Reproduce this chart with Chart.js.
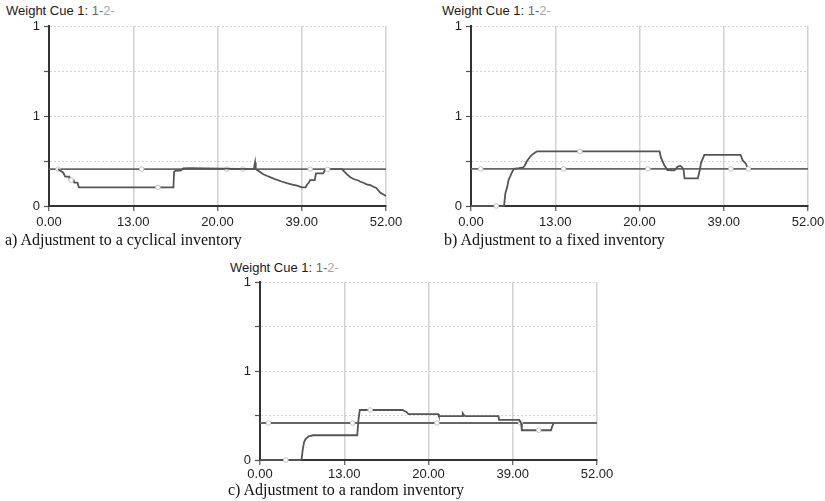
<!DOCTYPE html>
<html>
<head>
<meta charset="utf-8">
<script src="https://cdn.jsdelivr.net/npm/chart.js@4"></script>
<style>
  html, body { margin:0; padding:0; background:#fff; width:825px; height:501px; overflow:hidden; }
  .wrap { position:relative; width:825px; height:501px; }
  canvas { position:absolute; }
  .ttl { position:absolute; font-family:"Liberation Sans", Arial, sans-serif; font-size:13px; line-height:13px; color:#1a1a1a; white-space:nowrap; }
  .ttl .s1 { color:#6a6a6a; }
  .ttl .s2 { color:#a8a8a8; }
  .cap { position:absolute; font-family:"Liberation Serif", "Times New Roman", serif; font-size:16px; line-height:16px; color:#111; white-space:nowrap; }
</style>
</head>
<body>
<div class="wrap">
  <div class="ttl" style="left:6px;top:4px;">Weight Cue 1: <span class="s1">1-</span><span class="s2">2-</span></div>
  <div class="ttl" style="left:442px;top:4px;">Weight Cue 1: <span class="s1">1-</span><span class="s2">2-</span></div>
  <div class="ttl" style="left:230px;top:261px;">Weight Cue 1: <span class="s1">1-</span><span class="s2">2-</span></div>
  <canvas id="ca" width="410" height="232" style="left:0px;top:0px;"></canvas>
  <canvas id="cb" width="403" height="232" style="left:422px;top:0px;"></canvas>
  <canvas id="cc" width="410" height="230" style="left:211px;top:256px;"></canvas>
  <div class="cap" style="left:5px;top:232px;">a) Adjustment to a cyclical inventory</div>
  <div class="cap" style="left:444px;top:232px;">b) Adjustment to a fixed inventory</div>
  <div class="cap" style="left:228px;top:482px;">c) Adjustment to a random inventory</div>
</div>
<script>
// ---- tick labels ----
const xTickLabels = ["0.00", "13.00", "20.00", "39.00", "52.00"];
const yTickLabels = ["0", "", "1", "", "1"];

// ---- a) cyclical inventory ----
const cyclicalX1 = [1.4, 2.2, 2.5, 3.1, 3.2, 3.4, 3.8, 3.9, 4.4, 4.6, 16.8, 19.2, 19.3, 19.6, 20.3, 20.7, 21.7, 31.6, 31.8, 31.9, 32.5, 33.0, 33.6, 34.3, 35.1, 35.9, 36.7, 37.7, 38.3, 39.0, 39.6, 39.8, 40.1, 40.3, 41.0, 41.2, 42.3, 42.6, 43.0, 43.9, 45.2, 45.9, 46.5, 47.0, 47.6, 48.0, 48.6, 49.0, 49.6, 50.0, 50.5, 51.1, 52.0];
const cyclicalY1 = [0.205, 0.185, 0.163, 0.163, 0.144, 0.144, 0.144, 0.130, 0.130, 0.104, 0.104, 0.104, 0.190, 0.196, 0.196, 0.209, 0.210, 0.205, 0.243, 0.205, 0.190, 0.178, 0.168, 0.158, 0.146, 0.136, 0.127, 0.118, 0.113, 0.104, 0.104, 0.118, 0.130, 0.144, 0.144, 0.181, 0.181, 0.200, 0.203, 0.205, 0.205, 0.178, 0.160, 0.150, 0.143, 0.136, 0.128, 0.120, 0.116, 0.108, 0.100, 0.075, 0.055];
const cyclicalX2 = [0, 1.4, 14.3, 27.4, 29.9, 40.3, 52];
const cyclicalY2 = [0.205, 0.205, 0.205, 0.205, 0.205, 0.205, 0.205];
const cyclicalMarks1 = [3.4, 16.8, 43.0];
const cyclicalMarks2 = [1.4, 14.3, 27.4, 29.9, 40.3];

// ---- b) fixed inventory ----
const fixedX1 = [0, 3.9, 5.1, 5.3, 5.6, 5.8, 6.0, 6.3, 6.6, 7.4, 8.1, 8.3, 8.6, 9.0, 9.4, 9.9, 10.2, 16.8, 29.1, 29.3, 29.6, 29.8, 30.3, 31.4, 31.9, 32.3, 32.6, 32.8, 32.95, 35.0, 35.3, 35.5, 36.0, 41.6, 41.9, 42.1, 42.4, 42.8];
const fixedY1 = [0, 0, 0, 0.070, 0.108, 0.145, 0.160, 0.186, 0.206, 0.210, 0.215, 0.225, 0.247, 0.268, 0.284, 0.297, 0.303, 0.303, 0.303, 0.270, 0.245, 0.229, 0.200, 0.198, 0.219, 0.223, 0.215, 0.200, 0.154, 0.154, 0.200, 0.240, 0.284, 0.284, 0.255, 0.247, 0.235, 0.206];
const fixedX2 = [0, 1.5, 14.3, 27.3, 40.1, 52];
const fixedY2 = [0.206, 0.206, 0.206, 0.206, 0.206, 0.206];
const fixedMarks1 = [3.9, 16.8, 42.8];
const fixedMarks2 = [1.5, 14.3, 27.3, 40.1];

// ---- c) random inventory ----
const randomX1 = [0, 4.0, 6.4, 6.6, 6.8, 7.0, 7.5, 8.2, 15.0, 15.2, 15.4, 17.0, 22.0, 22.3, 22.6, 22.9, 27.5, 27.6, 29.9, 31.2, 31.3, 31.5, 31.7, 36.8, 36.9, 40.0, 40.3, 40.4, 43.0, 44.9, 45.1, 45.3];
const randomY1 = [0, 0, 0, 0.060, 0.100, 0.116, 0.133, 0.139, 0.139, 0.228, 0.281, 0.281, 0.281, 0.275, 0.270, 0.258, 0.258, 0.247, 0.247, 0.247, 0.262, 0.250, 0.247, 0.247, 0.225, 0.225, 0.205, 0.167, 0.167, 0.167, 0.190, 0.206];
const randomX2 = [0, 1.3, 14.3, 27.3, 40.2, 52];
const randomY2 = [0.208, 0.208, 0.208, 0.208, 0.208, 0.208];
const randomMarks1 = [4.0, 17.0, 43.0];
const randomMarks2 = [1.3, 14.3, 27.3, 40.2];

function pts(xs, ys) { return xs.map((x, i) => ({ x: x, y: ys[i] })); }
function markRadius(marks) {
  return ctx => (ctx.raw && marks.some(m => Math.abs(m - ctx.raw.x) < 1e-6)) ? 2.3 : 0;
}

const FONT = { family: '"Liberation Sans", Arial, sans-serif', size: 13 };

function makeChart(id, x1, y1, x2, y2, m1, m2, rightPad, tickPad) {
  const ctx = document.getElementById(id);
  return new Chart(ctx, {
    type: 'scatter',
    data: {
      datasets: [
        {
          data: pts(x1, y1), showLine: true, borderColor: '#555555', borderWidth: 1.8,
          pointRadius: markRadius(m1), pointBackgroundColor: '#fff', pointBorderColor: '#c2c2c2',
          pointBorderWidth: 1, pointHoverRadius: 0, clip: false, order: 1
        },
        {
          data: pts(x2, y2), showLine: true, borderColor: '#666666', borderWidth: 1.8,
          pointRadius: markRadius(m2), pointBackgroundColor: '#fff', pointBorderColor: '#c2c2c2',
          pointBorderWidth: 1, pointHoverRadius: 0, clip: false, order: 2
        }
      ]
    },
    options: {
      responsive: false,
      animation: false,
      events: [],
      plugins: { legend: { display: false }, tooltip: { enabled: false }, title: { display: false } },
      layout: { padding: { left: 0, top: 26, right: rightPad, bottom: 0 } },
      scales: {
        x: {
          type: 'linear', min: 0, max: 52,
          ticks: { stepSize: 13, autoSkip: false, maxRotation: 0, color: '#222', font: FONT, padding: tickPad,
                   callback: (v, i) => xTickLabels[i] },
          grid: { color: '#d2d2d2', lineWidth: 1.5, tickLength: 5, tickColor: '#555', tickWidth: 1.2 },
          border: { color: '#333', width: 2 },
          afterFit: s => { s.height = 26; s.paddingLeft = 0; s.paddingRight = 0; }
        },
        y: {
          type: 'linear', min: 0, max: 1,
          ticks: { stepSize: 0.25, autoSkip: false, color: '#222', font: FONT, padding: 4,
                   callback: (v, i) => yTickLabels[i] },
          grid: { color: '#d4d4d4', lineWidth: 1, tickLength: 5, tickColor: '#555', tickWidth: 1.2 },
          border: { color: '#333', width: 2, dash: [2, 2] },
          afterFit: s => { s.width = 49; s.paddingTop = 0; s.paddingBottom = 0; }
        }
      }
    }
  });
}

makeChart('ca', cyclicalX1, cyclicalY1, cyclicalX2, cyclicalY2, cyclicalMarks1, cyclicalMarks2, 24, 4);
makeChart('cb', fixedX1, fixedY1, fixedX2, fixedY2, fixedMarks1, fixedMarks2, 17, 4);
makeChart('cc', randomX1, randomY1, randomX2, randomY2, randomMarks1, randomMarks2, 24, 2);
</script>
</body>
</html>
